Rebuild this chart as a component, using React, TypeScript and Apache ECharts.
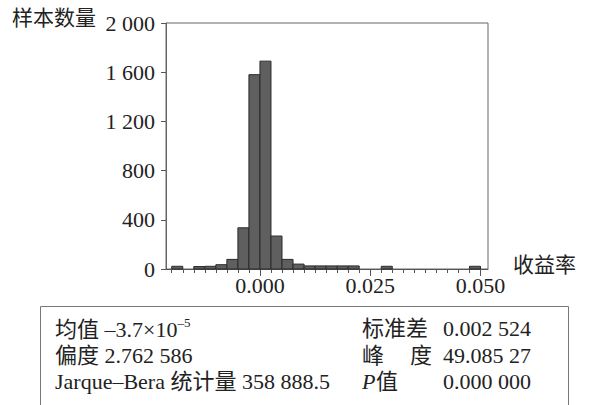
import React, { useEffect, useRef } from "react";
import * as echarts from "echarts";

// Histogram bins (lower edges) and counts
const binLower = [
  -0.02, -0.0175, -0.015, -0.0125, -0.01, -0.0075, -0.005, -0.0025,
  0, 0.0025, 0.005, 0.0075, 0.01, 0.0125, 0.015, 0.0175, 0.02, 0.0225,
  0.025, 0.0275, 0.03, 0.0325, 0.035, 0.0375, 0.04, 0.0425, 0.045, 0.0475,
];
const binWidth = 0.0025;
const binCounts = [
  22, 0, 20, 22, 35, 78, 335, 1580,
  1690, 268, 78, 40, 25, 25, 25, 25, 25, 0,
  0, 22, 0, 0, 0, 0, 0, 0, 0, 22,
];

const xMinorTicks = [
  -0.02, -0.0175, -0.015, -0.0125, -0.01, -0.0075, -0.005, -0.0025,
  0, 0.0025, 0.005, 0.0075, 0.01, 0.0125, 0.015, 0.0175, 0.02, 0.0225,
  0.025, 0.0275, 0.03, 0.0325, 0.035, 0.0375, 0.04, 0.0425, 0.045, 0.0475, 0.05,
];
const xMajorTicks = [0, 0.025, 0.05];
const xTickLabels = ["0.000", "0.025", "0.050"];
const yTickLabels = ["0", "400", "800", "1 200", "1 600", "2 000"];

const yAxisTitle = "样本数量";
const xAxisTitle = "收益率";

const meanText = "均值 –3.7×10";
const meanExponent = "–5";
const statsLeft = ["偏度 2.762 586", "Jarque–Bera 统计量 358 888.5"];
const statsRightNames = ["标准差", "峰", "值"];
const statsRightValues = ["0.002 524", "49.085 27", "0.000 000"];

const SERIF = "'Liberation Serif', 'Times New Roman', 'Noto Sans CJK SC', serif";
const TEXT = "#222";

export default function App() {
  const ref = useRef<HTMLDivElement>(null);

  useEffect(() => {
    document.body.style.margin = "0";
    const chart = echarts.init(ref.current!, null, { renderer: "svg" });
    const data = binLower
      .map((lo, i) => [lo, lo + binWidth, binCounts[i]])
      .filter((d) => d[2] > 0);

    const rowY = [328, 355, 381];
    const fs = 22;
    const font = `${fs}px ${SERIF}`;

    const graphics: any[] = [
      {
        type: "text",
        left: 12,
        top: 7,
        style: { text: yAxisTitle, font: `21px ${SERIF}`, fill: TEXT },
      },
      {
        type: "text",
        left: 513,
        top: 254,
        style: { text: xAxisTitle, font: `21px ${SERIF}`, fill: TEXT },
      },
      {
        type: "rect",
        shape: { x: 40.5, y: 306.5, width: 528, height: 120 },
        style: { fill: "none", stroke: "#777", lineWidth: 1 },
      },
      {
        type: "text",
        x: 55,
        y: rowY[0],
        style: {
          text: `{a|${meanText}}{s|${meanExponent}}`,
          fill: TEXT,
          verticalAlign: "middle",
          rich: {
            a: { fontFamily: SERIF, fontSize: fs, fill: TEXT, verticalAlign: "bottom", lineHeight: 24 },
            s: { fontFamily: SERIF, fontSize: 13, fill: TEXT, verticalAlign: "top", lineHeight: 14 },
          },
        },
      },
    ];
    statsLeft.forEach((t, i) => {
      graphics.push({
        type: "text",
        x: 55,
        y: rowY[i + 1],
        style: { text: t, font, fill: TEXT, verticalAlign: "middle" },
      });
    });
    // right column
    graphics.push({
      type: "text",
      x: 362,
      y: rowY[0],
      style: { text: statsRightNames[0], font, fill: TEXT, verticalAlign: "middle" },
    });
    graphics.push({
      type: "text",
      x: 362,
      y: rowY[1],
      style: { text: statsRightNames[1], font, fill: TEXT, verticalAlign: "middle" },
    });
    graphics.push({
      type: "text",
      x: 410,
      y: rowY[1],
      style: { text: "度", font, fill: TEXT, verticalAlign: "middle" },
    });
    graphics.push({
      type: "text",
      x: 362,
      y: rowY[2],
      style: { text: "P", font: `italic ${fs}px ${SERIF}`, fill: TEXT, verticalAlign: "middle" },
    });
    graphics.push({
      type: "text",
      x: 376,
      y: rowY[2],
      style: { text: statsRightNames[2], font, fill: TEXT, verticalAlign: "middle" },
    });
    statsRightValues.forEach((v, i) => {
      graphics.push({
        type: "text",
        x: 531,
        y: rowY[i],
        style: { text: v, font, fill: TEXT, align: "right", verticalAlign: "middle" },
      });
    });

    const xBase = {
      type: "value",
      min: -0.0213,
      max: 0.0517,
      position: "bottom",
      offset: 0,
      splitLine: { show: false },
    };

    chart.setOption({
      animation: false,
      grid: {
        left: 166,
        top: 23,
        width: 322,
        height: 246,
        show: true,
        borderColor: "#666",
        borderWidth: 1,
        backgroundColor: "transparent",
      },
      xAxis: [
        {
          ...xBase,
          axisLine: { show: true, onZero: false, lineStyle: { color: "#555", width: 1 } },
          axisTick: {
            show: true,
            length: 4,
            customValues: xMinorTicks,
            lineStyle: { color: "#555", width: 1 },
          },
          axisLabel: { show: false },
        },
        {
          ...xBase,
          axisLine: { show: false, onZero: false },
          axisTick: {
            show: true,
            length: 7,
            customValues: xMajorTicks,
            lineStyle: { color: "#555", width: 1 },
          },
          axisLabel: {
            show: true,
            customValues: xMajorTicks,
            formatter: (v: number) => xTickLabels[xMajorTicks.indexOf(v)] ?? "",
            fontFamily: SERIF,
            fontSize: 22,
            color: TEXT,
            margin: 5,
          },
        },
      ],
      yAxis: {
        type: "value",
        min: 0,
        max: 2000,
        interval: 400,
        axisLine: { show: true, onZero: false, lineStyle: { color: "#666", width: 1 } },
        splitLine: { show: false },
        axisTick: { show: true, length: 5, lineStyle: { color: "#555", width: 1 } },
        axisLabel: {
          formatter: (v: number) => yTickLabels[Math.round(v / 400)] ?? "",
          fontFamily: SERIF,
          fontSize: 22,
          color: TEXT,
          margin: 11,
        },
      },
      series: [
        {
          type: "custom",
          xAxisIndex: 0,
          yAxisIndex: 0,
          encode: { x: [0, 1], y: 2 },
          data,
          renderItem: (_params: any, api: any) => {
            const p0 = api.coord([api.value(0), api.value(2)]);
            const p1 = api.coord([api.value(1), 0]);
            return {
              type: "rect",
              shape: { x: p0[0], y: p0[1], width: p1[0] - p0[0], height: p1[1] - p0[1] },
              style: { fill: "#5f5f5f", stroke: "#2b2b2b", lineWidth: 1 },
            };
          },
        },
      ],
      graphic: graphics,
    });
    return () => chart.dispose();
  }, []);

  return (
    <div
      ref={ref}
      style={{ position: "fixed", left: 0, top: 0, width: 592, height: 405, background: "#fff" }}
    />
  );
}
